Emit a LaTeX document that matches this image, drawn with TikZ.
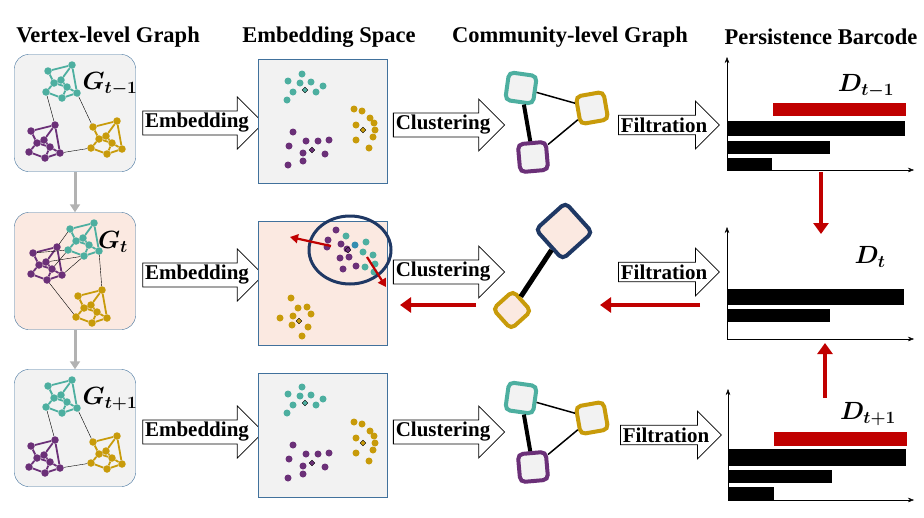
\documentclass[tikz,border=0pt]{standalone}
\usepackage{fontspec}
\setmainfont{Liberation Serif}
\usepackage{bm}
\usetikzlibrary{shapes.arrows,shapes.geometric,arrows.meta}
\definecolor{cteal}{RGB}{77,175,160}
\definecolor{cpurp}{RGB}{107,48,120}
\definecolor{cgold}{RGB}{200,155,10}
\definecolor{cnavy}{RGB}{31,56,100}
\definecolor{cred}{RGB}{192,0,0}
\definecolor{cbord}{RGB}{65,113,156}
\definecolor{cgray}{RGB}{242,242,242}
\definecolor{cpink}{RGB}{251,233,225}
\tikzset{
  title/.style={font=\fontsize{22.5}{24}\selectfont\bfseries},
  gbox/.style={draw=cbord,rounded corners=14pt,minimum width=121pt,minimum height=117pt},
  ebox/.style={draw=cbord,minimum width=129pt,minimum height=124pt},
  barrow/.style={single arrow,draw,fill=white,thick,minimum height=#1,
    single arrow head extend=14pt,inner sep=2pt,font=\fontsize{21}{22}\selectfont\bfseries},
  vdot/.style={circle,inner sep=0,minimum size=7.5pt},
  edot/.style={circle,inner sep=0,minimum size=7pt},
  cent/.style={diamond,draw=black,inner sep=0,minimum size=6pt},
  comm/.style={draw,rounded corners=5pt,line width=4pt,minimum size=28pt},
  redarr/.style={cred,line width=4pt,-{Triangle[length=11pt,width=15pt]}},
  grayarr/.style={gray!60,line width=3pt,-{Triangle[length=8pt,width=10pt]}},
  bar/.style={fill=#1,draw=none},
  lbl/.style={font=\fontsize{24}{26}\selectfont}
}
% small community drawn around (x,y)
\newcommand{\clus}[4]{%
  \foreach \i/\dx/\dy in {1/-12/-11,2/12/-17,3/-6/1,4/1/-2,5/7/5,6/-14/10,7/2/16,8/17/11}
    \node[vdot,fill=#4] (#1\i) at (#2+\dx,#3+\dy) {};
  \foreach \a/\b in {1/2,1/3,2/4,3/4,4/5,2/8,3/6,5/7,6/7,7/8,5/8,3/5}
    \draw[#4,line width=1.8pt] (#1\a) -- (#1\b);
}
\newcommand{\barcode}[3]{% origin x, origin y, top y
  \draw[-{Stealth[length=6pt]}] (#1,#2) -- (#1,#3);
  \draw[-{Stealth[length=6pt]}] (#1,#2) -- (914,#2);
}
\begin{document}
\begin{tikzpicture}[x=1pt,y=-1pt]
\useasboundingbox (0,0) rectangle (924,517);

% titles
\node[title] at (108,37) {Vertex-level Graph};
\node[title] at (329,37) {Embedding Space};
\node[title] at (570,37) {Community-level Graph};
\node[title] at (821,37) {Persistence Barcode};

% vertex-level graphs
\node[gbox,fill=cgray] (g1) at (75,113) {};
\node[gbox,fill=cpink] (g2) at (75,271) {};
\node[gbox,fill=cgray] (g3) at (75,428) {};
\draw[grayarr] (g1) -- (g2);
\draw[grayarr] (g2) -- (g3);

\clus{ta}{60}{82}{cteal}
\clus{pa}{43}{142}{cpurp}
\clus{ya}{105}{138}{cgold}
\draw (ta6) -- (pa2); \draw (ta8) -- (ya1); \draw (pa8) -- (ya6);
\node[lbl] at (110,84) {$\bm{G_{t-1}}$};

\clus{tb}{82}{240}{cteal}
\clus{pb}{45}{264}{cpurp}
\clus{yb}{90}{307}{cgold}
\draw (pb2) -- (tb1); \draw (pb1) -- (tb6); \draw (pb4) -- (tb7); \draw (pb8) -- (tb7);
\draw (pb5) -- (tb6); \draw (tb8) -- (yb2); \draw (pb7) -- (yb6);
\node[lbl] at (113,242) {$\bm{G_{t}}$};

\clus{tc}{60}{397}{cteal}
\clus{pc}{43}{457}{cpurp}
\clus{yc}{105}{453}{cgold}
\draw (tc6) -- (pc2); \draw (tc8) -- (yc1); \draw (pc8) -- (yc6);
\node[lbl] at (110,399) {$\bm{G_{t+1}}$};

% embedding arrows
\node[barrow=117pt] (em1) at (197,123) {Embedding};
\node[barrow=117pt] (em2) at (197,275) {Embedding};
\node[barrow=117pt] (em3) at (197,432) {Embedding};

% embedding spaces
\node[ebox,fill=cgray] (e1) at (323,121) {};
\node[ebox,fill=cpink] (e2) at (323,283) {};
\node[ebox,fill=cgray] (e3) at (323,435) {};
\foreach \s in {0,313}{
  \foreach \x/\y in {288/81,302/74,300/83,311/82,323/86,293/92,316/92,287/100}
    \node[edot,fill=cteal] at (\x,\y+\s) {};
  \foreach \x/\y in {354/109,362/111,370/118,374/123,375/130,356/125,373/137,356/140,369/148}
    \node[edot,fill=cgold] at (\x,\y+\s) {};
  \foreach \x/\y in {293/132,306/141,318/141,329/140,289/146,303/153,325/154,303/161,288/165}
    \node[edot,fill=cpurp] at (\x,\y+\s) {};
  \node[cent,fill=cteal] at (305,90+\s) {};
  \node[cent,fill=cgold] at (363,130+\s) {};
  \node[cent,fill=cpurp] at (312,150+\s) {};
}
\foreach \x/\y in {336/230,328/240,327/247,341/244,347/249,340/258,349/257,343/269,356/266}
  \node[edot,fill=cpurp] at (\x,\y) {};
\foreach \x/\y in {346/236,366/242,363/252,373/255,375/264,365/267,374/272}
  \node[edot,fill=cteal] at (\x,\y) {};
\node[edot,fill=cbord!80!cyan] at (355,245) {};
\node[cent,fill=cpurp] at (348,250) {};
\foreach \x/\y in {291/298,298/308,307/307,311/314,280/318,293/316,292/325,308/327,302/336}
  \node[edot,fill=cgold] at (\x,\y) {};
\node[cent,fill=cgold] at (299,321) {};
\draw[cnavy,line width=3pt] (350,250) ellipse (41pt and 34pt);
\coordinate (sa) at (331,246); \coordinate (sb) at (290,237);
\coordinate (sc) at (367,257); \coordinate (sd) at (386,287);
\draw[cred,line width=2.2pt,-{Triangle[length=8pt,width=9pt]}] (sa) -- (sb);
\draw[cred,line width=2.2pt,-{Triangle[length=8pt,width=9pt]}] (sc) -- (sd);

% clustering arrows
\node[barrow=97pt] (cl1) at (443,125) {Clustering};
\node[barrow=97pt] (cl2) at (443,272) {Clustering};
\node[barrow=97pt] (cl3) at (443,432) {Clustering};

% community-level graphs
\foreach \s/\n in {0/a,310/c}{
  \node[comm,draw=cteal,fill=cgray,rotate=-8] (ct\n) at (521,88+\s) {};
  \node[comm,draw=cgold,fill=cgray,rotate=10] (cy\n) at (592,108+\s) {};
  \node[comm,draw=cpurp,fill=cgray,rotate=5] (cp\n) at (533,157+\s) {};
  \draw[line width=4pt] (ct\n) -- (cp\n);
  \draw[line width=1.5pt] (ct\n) -- (cy\n);
  \draw[line width=1.5pt] (cy\n) -- (cp\n);
}
\node[comm,draw=cnavy,fill=cpink,rotate=42,minimum size=40pt] (cn) at (564,231) {};
\node[comm,draw=cgold,fill=cpink,rotate=42,minimum size=27pt] (cg) at (512,310) {};
\draw[line width=5pt] (cn) -- (cg);

% filtration arrows
\node[barrow=99pt] (fi1) at (664,125) {Filtration};
\node[barrow=99pt] (fi2) at (664,272) {Filtration};
\node[barrow=99pt] (fi3) at (666,435) {Filtration};

% backward red arrows
\coordinate (r1) at (700,305); \coordinate (r2) at (600,305);
\coordinate (r3) at (476,305); \coordinate (r4) at (400,305);
\draw[redarr] (r1) -- (r2);
\draw[redarr] (r3) -- (r4);

% barcodes
\barcode{727}{170}{57}
\fill[bar=cred] (773,103) rectangle (906,116);
\fill[bar=black] (727,121) rectangle (905,136);
\fill[bar=black] (727,141) rectangle (830,154);
\fill[bar=black] (727,158) rectangle (772,170);
\node[lbl] (d1) at (866,86) {$\bm{D_{t-1}}$};

\barcode{727}{339}{227}
\fill[bar=black] (727,289) rectangle (904,305);
\fill[bar=black] (727,309) rectangle (830,322);
\node[lbl] (d2) at (870,257) {$\bm{D_{t}}$};

\barcode{728}{500}{389}
\fill[bar=cred] (774,432) rectangle (907,446);
\fill[bar=black] (728,449) rectangle (906,466);
\fill[bar=black] (728,470) rectangle (832,483);
\fill[bar=black] (728,487) rectangle (774,500);
\node[lbl] (d3) at (868,414) {$\bm{D_{t+1}}$};

\coordinate (b1) at (821,172); \coordinate (b2) at (821,234);
\coordinate (b3) at (825,398); \coordinate (b4) at (825,343);
\draw[redarr] (b1) -- (b2);
\draw[redarr] (b3) -- (b4);
\end{tikzpicture}
\end{document}
